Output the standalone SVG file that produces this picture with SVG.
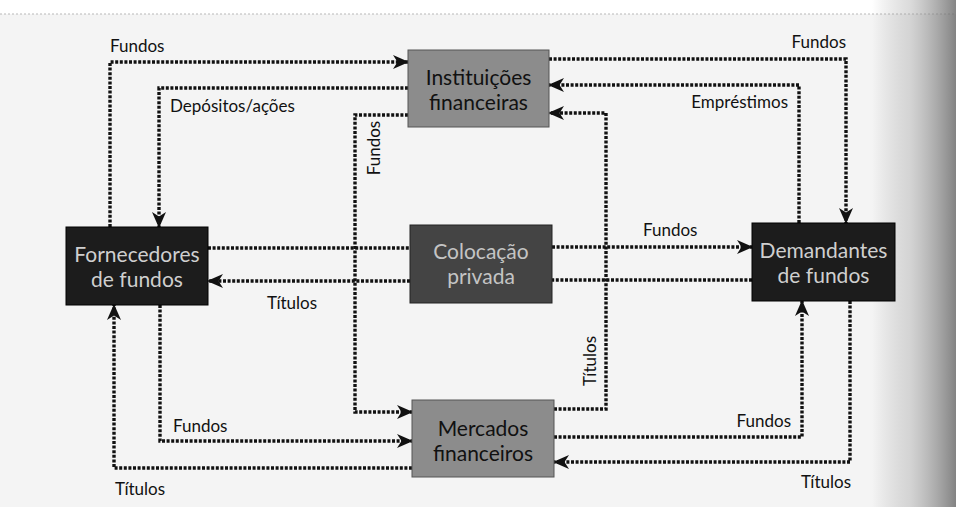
<svg xmlns="http://www.w3.org/2000/svg" width="956" height="507" viewBox="0 0 956 507">
  <defs>
    <linearGradient id="pageEdge" x1="0" y1="0" x2="1" y2="0">
      <stop offset="0" stop-color="#808080" stop-opacity="0"/>
      <stop offset="0.45" stop-color="#999" stop-opacity="0.35"/>
      <stop offset="1" stop-color="#666" stop-opacity="0.8"/>
    </linearGradient>
    <marker id="arrow" viewBox="0 0 16 14" markerWidth="16" markerHeight="14" refX="15" refY="7" orient="auto" markerUnits="userSpaceOnUse">
      <path d="M0,0 L16,7 L0,14 L4.5,7 Z" fill="#111"/>
    </marker>
    <style>
      .flow { fill: none; stroke: #111; stroke-width: 3.4; stroke-dasharray: 3 1.6; }
      .lbl { font-family: Lato, "Open Sans", sans-serif; font-size: 17px; fill: #111; }
      .node-text { font-family: Lato, "Open Sans", sans-serif; font-size: 21px; text-anchor: middle; }
      .mid rect { fill: #8c8c8c; stroke: #555; stroke-width: 1; }
      .mid text { fill: #111; }
      .dark rect { fill: #1c1c1c; stroke: #000; stroke-width: 1; }
      .dark text { fill: #cfcfcf; }
      .deep rect { fill: #444; stroke: #222; stroke-width: 1; }
      .deep text { fill: #c4c4c4; }
    </style>
  </defs>

  <!-- paper -->
  <rect x="0" y="0" width="956" height="507" fill="#fff"/>
  <rect x="0" y="14" width="956" height="493" fill="#f4f4f4"/>
  <line x1="0" y1="14" x2="956" y2="14" stroke="#b8b8b8" stroke-width="1" stroke-dasharray="2 2"/>
  <rect x="872" y="0" width="84" height="507" fill="url(#pageEdge)"/>

  <!-- connectors -->
  <g id="connectors">
    <polyline class="flow" points="110,227 110,62 408,62" marker-end="url(#arrow)"/>
    <polyline class="flow" points="408,88 159,88 159,227" marker-end="url(#arrow)"/>
    <polyline class="flow" points="408,115 355,115 355,412 412,412" marker-end="url(#arrow)"/>
    <polyline class="flow" points="549,59 846,59 846,223" marker-end="url(#arrow)"/>
    <polyline class="flow" points="799,223 799,85 549,85" marker-end="url(#arrow)"/>
    <polyline class="flow" points="554,409 606,409 606,113 549,113" marker-end="url(#arrow)"/>
    <line class="flow" x1="208" y1="248" x2="410" y2="248"/>
    <polyline class="flow" points="552,247 752,247" marker-end="url(#arrow)"/>
    <line class="flow" x1="752" y1="280" x2="552" y2="280"/>
    <polyline class="flow" points="410,281 208,281" marker-end="url(#arrow)"/>
    <polyline class="flow" points="160,305 160,441 412,441" marker-end="url(#arrow)"/>
    <polyline class="flow" points="412,468 114,468 114,305" marker-end="url(#arrow)"/>
    <polyline class="flow" points="554,437 802,437 802,301" marker-end="url(#arrow)"/>
    <polyline class="flow" points="850,301 850,462 554,462" marker-end="url(#arrow)"/>

    <text class="lbl" x="110" y="52">Fundos</text>
    <text class="lbl" x="170" y="112">Depósitos/ações</text>
    <text class="lbl" text-anchor="middle" transform="translate(380,148) rotate(-90)">Fundos</text>
    <text class="lbl" x="846" y="48" text-anchor="end">Fundos</text>
    <text class="lbl" x="788" y="108" text-anchor="end">Empréstimos</text>
    <text class="lbl" text-anchor="middle" transform="translate(596,361) rotate(-90)">Títulos</text>
    <text class="lbl" x="643" y="236">Fundos</text>
    <text class="lbl" x="267" y="309">Títulos</text>
    <text class="lbl" x="173" y="432">Fundos</text>
    <text class="lbl" x="115" y="495">Títulos</text>
    <text class="lbl" x="791" y="427" text-anchor="end">Fundos</text>
    <text class="lbl" x="851" y="488" text-anchor="end">Títulos</text>
  </g>

  <!-- nodes -->
  <g id="instituicoes" class="mid">
    <rect x="408" y="50" width="141" height="77"/>
    <text class="node-text" x="478.5" y="85">Instituições</text>
    <text class="node-text" x="478.5" y="110">financeiras</text>
  </g>
  <g id="fornecedores" class="dark">
    <rect x="66" y="227" width="142" height="78"/>
    <text class="node-text" x="137" y="262">Fornecedores</text>
    <text class="node-text" x="137" y="287">de fundos</text>
  </g>
  <g id="colocacao" class="deep">
    <rect x="410" y="225" width="142" height="78"/>
    <text class="node-text" x="481" y="259">Colocação</text>
    <text class="node-text" x="481" y="284">privada</text>
  </g>
  <g id="demandantes" class="dark">
    <rect x="752" y="223" width="143" height="78"/>
    <text class="node-text" x="823.5" y="258">Demandantes</text>
    <text class="node-text" x="823.5" y="283">de fundos</text>
  </g>
  <g id="mercados" class="mid">
    <rect x="412" y="400" width="142" height="77"/>
    <text class="node-text" x="483" y="436">Mercados</text>
    <text class="node-text" x="483" y="461">financeiros</text>
  </g>
</svg>
